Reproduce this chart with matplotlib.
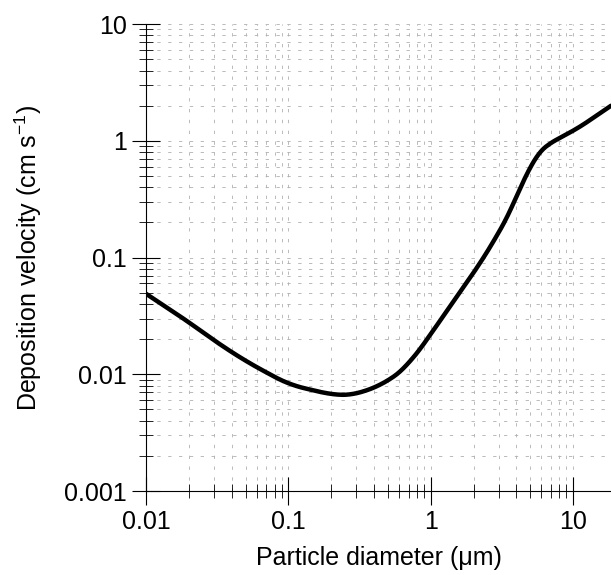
import numpy
import matplotlib
matplotlib.use("Agg")
import matplotlib.pyplot
import matplotlib.ticker

# particle diameter (um) and deposition velocity (cm/s)
diameter = [0.01, 0.02, 0.03, 0.05, 0.1, 0.2, 0.25, 0.3, 0.5, 0.7, 1.0, 1.5, 2.0, 3.0, 4.0, 5.0, 6.0, 8.0, 10.0, 18.5]
velocity = [0.049, 0.028, 0.0195, 0.013, 0.0082, 0.0067, 0.0066, 0.0067, 0.0086, 0.012, 0.022, 0.045, 0.073, 0.16, 0.31, 0.67, 0.87, 1.06, 1.2, 2.0]
x_ticks = [0.01, 0.1, 1, 10]
x_tick_labels = ["0.01", "0.1", "1", "10"]
y_ticks = [0.001, 0.01, 0.1, 1, 10]
y_tick_labels = ["0.001", "0.01", "0.1", "1", "10"]


def main():
  matplotlib.pyplot.rcParams["font.family"] = ["Liberation Sans", "DejaVu Sans"]
  fig = matplotlib.pyplot.figure(figsize=(6.11, 5.75), dpi=100)
  ax = fig.add_axes([0.239, 0.146, 0.761, 0.812])

  # smooth the read points in log space (linear interp + moving average)
  lx = numpy.log10(diameter)
  ly = numpy.log10(velocity)
  fine = numpy.linspace(lx[0], lx[-1], 600)
  fy = numpy.interp(fine, lx, ly)
  n = 41
  pad = numpy.pad(fy, n // 2, mode="reflect", reflect_type="odd")
  fy = numpy.convolve(pad, numpy.ones(n) / n, mode="valid")
  ax.plot(10 ** fine, 10 ** fy, color="black", lw=3.2, solid_capstyle="round", zorder=3)

  ax.set_xscale("log")
  ax.set_yscale("log")
  ax.set_xlim(0.01, 18.5)
  ax.set_ylim(0.001, 10)
  ax.set_xticks(x_ticks)
  ax.set_xticklabels(x_tick_labels)
  ax.set_yticks(y_ticks)
  ax.set_yticklabels(y_tick_labels)
  ax.xaxis.set_minor_locator(matplotlib.ticker.LogLocator(base=10, subs=numpy.arange(2, 10)))
  ax.yaxis.set_minor_locator(matplotlib.ticker.LogLocator(base=10, subs=numpy.arange(2, 10)))
  ax.xaxis.set_minor_formatter(matplotlib.ticker.NullFormatter())
  ax.yaxis.set_minor_formatter(matplotlib.ticker.NullFormatter())

  ax.grid(True, which="both", color="#b0b0b0", lw=0.6, linestyle=(0, (4, 9)))
  ax.tick_params(which="major", direction="inout", length=20, width=0.8, labelsize=18, pad=4)
  ax.tick_params(which="minor", direction="inout", length=10, width=0.6)
  for side in ("top", "right"):
    ax.spines[side].set_visible(False)
  ax.spines["left"].set_linewidth(0.8)
  ax.spines["bottom"].set_linewidth(0.8)

  ax.set_xlabel("Particle diameter (\u03bcm)", fontsize=18, labelpad=8)
  ax.set_ylabel("Deposition velocity (cm s$^{\\mathregular{-1}}$)", fontsize=18, labelpad=14)

  matplotlib.pyplot.savefig("out.png", dpi=100)


if __name__ == "__main__":
  main()
